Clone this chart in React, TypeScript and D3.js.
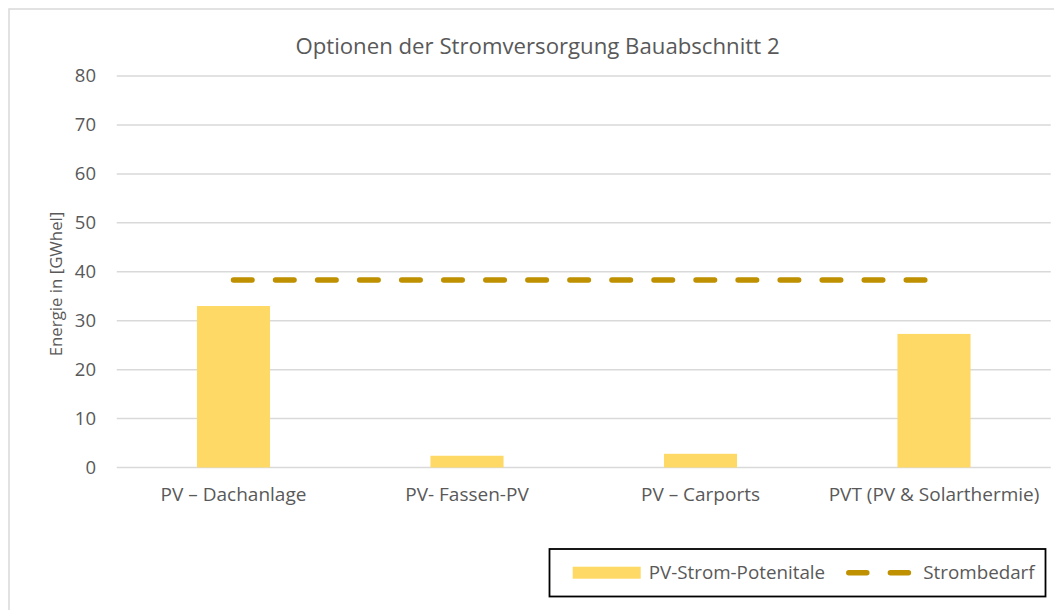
import React from "react";
import * as d3 from "d3";

const categories: string[] = [
  "PV – Dachanlage",
  "PV- Fassen-PV",
  "PV – Carports",
  "PVT (PV & Solarthermie)",
];
const pvPotential: number[] = [33.0, 2.4, 2.8, 27.3];
const demand: number[] = [38.3, 38.3, 38.3, 38.3];
const yTicks: number[] = [0, 10, 20, 30, 40, 50, 60, 70, 80];
const seriesNames: string[] = ["PV-Strom-Potenitale", "Strombedarf"];
const titleText = "Optionen der Stromversorgung Bauabschnitt 2";
const yTitle = "Energie in [GWhel]";

const W = 1054;
const H = 610;
const plot = { left: 116.75, right: 1050.75, top: 76, bottom: 467.5 };
const FONT = "'Open Sans', sans-serif";
const TXT = "#595959";
const BAR = "#FFD966";
const LINE = "#BF9000";
const GRID = "#d9d9d9";

export default function App() {
  const x = d3
    .scaleBand<string>()
    .domain(categories)
    .range([plot.left, plot.right])
    .paddingInner(0)
    .paddingOuter(0);
  const y = d3.scaleLinear().domain([0, 80]).range([plot.bottom, plot.top]);
  const bw = x.bandwidth() * 0.313;

  const lineGen = d3
    .line<number>()
    .x((_, i) => (x(categories[i]) as number) + x.bandwidth() / 2)
    .y((d) => y(d));

  return (
    <svg
      width={W}
      height={H}
      style={{ position: "absolute", left: 0, top: 0, background: "#fff" }}
      fontFamily={FONT}
    >
      <rect x={0} y={0} width={W} height={H} fill="#fff" />
      <rect
        x={9}
        y={9}
        width={W + 20}
        height={H + 20}
        fill="#fff"
        stroke={GRID}
        strokeWidth={1.5}
      />
      <text
        x={537.5}
        y={53.5}
        textAnchor="middle"
        fontSize={22.2}
        fill={TXT}
      >
        {titleText}
      </text>

      {yTicks.map((t) => (
        <g key={t}>
          <line
            x1={plot.left}
            x2={plot.right}
            y1={y(t)}
            y2={y(t)}
            stroke={GRID}
            strokeWidth={1.5}
          />
          <text
            x={96}
            y={y(t)}
            dy="0.35em"
            textAnchor="end"
            fontSize={18.5}
            fill={TXT}
          >
            {t}
          </text>
        </g>
      ))}

      <text
        transform={`translate(62, ${284}) rotate(-90)`}
        textAnchor="middle"
        fontSize={16.8}
        fill={TXT}
      >
        {yTitle}
      </text>

      {pvPotential.map((v, i) => (
        <rect
          key={categories[i]}
          x={(x(categories[i]) as number) + (x.bandwidth() - bw) / 2}
          y={y(v)}
          width={bw}
          height={y(0) - y(v)}
          fill={BAR}
        />
      ))}

      <path
        d={lineGen(demand) || ""}
        fill="none"
        stroke={LINE}
        strokeWidth={5.5}
        strokeLinecap="round"
        strokeDasharray="18.5 23.55"
      />

      {categories.map((c) => (
        <text
          key={c}
          x={(x(c) as number) + x.bandwidth() / 2}
          y={501}
          textAnchor="middle"
          fontSize={19}
          fill={TXT}
        >
          {c}
        </text>
      ))}

      <g>
        <rect
          x={549.5}
          y={549}
          width={496}
          height={47.5}
          fill="#fff"
          stroke="#000"
          strokeWidth={1.8}
        />
        <rect x={572.7} y={566.7} width={68} height={12} fill={BAR} />
        <text x={648.7} y={579} fontSize={18.8} fill={TXT}>
          {seriesNames[0]}
        </text>
        <line
          x1={848.8}
          x2={908.5}
          y1={572.7}
          y2={572.7}
          stroke={LINE}
          strokeWidth={5.5}
          strokeLinecap="round"
          strokeDasharray="18 23.6"
        />
        <text x={923.3} y={579} fontSize={18.8} fill={TXT}>
          {seriesNames[1]}
        </text>
      </g>
    </svg>
  );
}
